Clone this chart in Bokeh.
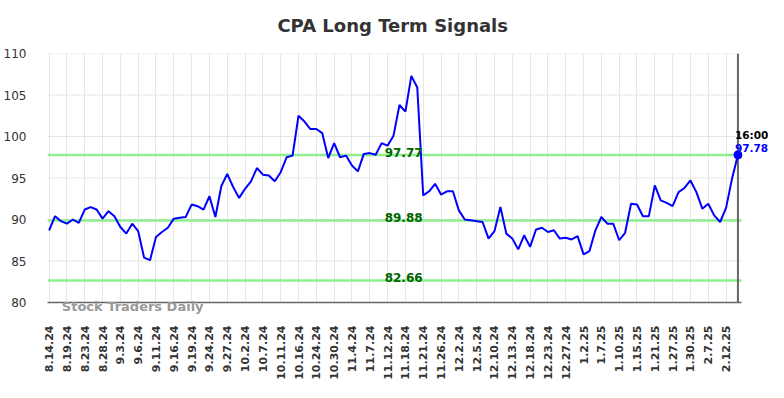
import math
from bokeh.plotting import figure
from bokeh.models import Range1d, Label
from bokeh.embed import file_html
from bokeh.resources import INLINE

# ---- data ----
values = [
    88.7, 90.4, 89.8, 89.5, 90.0, 89.6, 91.2, 91.5, 91.2, 90.1,
    91.0, 90.4, 89.1, 88.3, 89.5, 88.6, 85.4, 85.1, 87.9, 88.5,
    89.0, 90.1, 90.2, 90.3, 91.8, 91.6, 91.2, 92.8, 90.3, 94.0,
    95.5, 93.9, 92.6, 93.7, 94.6, 96.2, 95.4, 95.3, 94.6, 95.7,
    97.5, 97.7, 102.5, 101.8, 100.9, 100.9, 100.4, 97.4, 99.2, 97.5,
    97.7, 96.5, 95.8, 97.9, 98.0, 97.8, 99.2, 98.9, 100.1, 103.8,
    103.0, 107.3, 105.9, 92.9, 93.4, 94.3, 93.0, 93.4, 93.4, 91.1,
    90.0, 89.9, 89.8, 89.7, 87.7, 88.6, 91.5, 88.3, 87.7, 86.4,
    88.1, 86.7, 88.8, 89.0, 88.5, 88.7, 87.7, 87.8, 87.6, 88.0,
    85.8, 86.2, 88.7, 90.3, 89.5, 89.5, 87.5, 88.4, 91.9, 91.8,
    90.4, 90.4, 94.1, 92.3, 92.0, 91.6, 93.3, 93.8, 94.7, 93.3,
    91.3, 91.9, 90.5, 89.7, 91.4, 94.9, 97.78,
]
tick_labels = [
    "8.14.24", "8.19.24", "8.23.24", "8.28.24", "9.3.24", "9.6.24", "9.11.24",
    "9.16.24", "9.19.24", "9.24.24", "9.27.24", "10.2.24", "10.7.24", "10.11.24",
    "10.16.24", "10.24.24", "10.30.24", "11.4.24", "11.7.24", "11.12.24",
    "11.18.24", "11.21.24", "11.26.24", "12.2.24", "12.5.24", "12.10.24",
    "12.13.24", "12.18.24", "12.23.24", "12.27.24", "1.2.25", "1.7.25",
    "1.10.25", "1.15.25", "1.21.25", "1.27.25", "1.30.25", "2.7.25", "2.12.25",
]
y_ticks = [80, 85, 90, 95, 100, 105, 110]
levels = [97.77, 89.88, 82.66]
last_time = "16:00"
title = "CPA Long Term Signals"
watermark = "Stock Traders Daily"

x = list(range(len(values)))
tick_pos = [i * 3 for i in range(len(tick_labels))]
last_x = x[-1]
last_v = values[-1]

FONT = "DejaVu Sans"
X0 = -0.27                 # left edge of plotting area (data units)
X_END = last_x + 0.59      # visible right edge of the chart area
PX_PER_X = 5.93
FRAME_W = 720

p = figure(width=768, height=389, output_backend="svg", toolbar_location=None,
           x_range=Range1d(X0, X0 + FRAME_W / PX_PER_X),
           y_range=Range1d(y_ticks[0], y_ticks[-1]),
           min_border_left=39, min_border_right=0, min_border_top=53,
           min_border_bottom=87)
p.outline_line_color = None

# axes
xa = p.xaxis[0]
xa.ticker = tick_pos
xa.bounds = (X0, X_END)
xa.major_label_overrides = {t: l for t, l in zip(tick_pos, tick_labels)}
xa.major_label_orientation = math.pi / 2
xa.major_tick_line_color = None
xa.minor_tick_line_color = None
xa.axis_line_color = "#666666"
xa.axis_line_width = 1.5
xa.major_label_text_font = FONT
xa.major_label_text_font_size = "11px"
xa.major_label_text_font_style = "bold"
xa.major_label_text_color = "#333333"
xa.major_label_standoff = 17

ya = p.yaxis[0]
ya.ticker = y_ticks
ya.axis_line_color = None
ya.major_tick_line_color = None
ya.minor_tick_line_color = None
ya.major_label_text_font = FONT
ya.major_label_text_font_size = "12px"
ya.major_label_text_color = "#333333"
ya.major_label_standoff = 15

p.xgrid.grid_line_color = "#e6e6e6"
p.ygrid.visible = False
# horizontal grid lines limited to the chart area
p.segment(x0=[X0] * len(y_ticks), x1=[X_END] * len(y_ticks), y0=y_ticks, y1=y_ticks,
          line_color="#e6e6e6", line_width=1)

# level lines
p.segment(x0=[X0] * len(levels), x1=[X_END] * len(levels), y0=levels, y1=levels,
          line_color="#90EE90", line_width=2.5)
# vertical marker line at last point
p.segment(x0=[last_x], x1=[last_x], y0=[y_ticks[0]], y1=[y_ticks[-1]],
          line_color="#666666", line_width=2)
# price line
p.line(x, values, line_color="#0000FF", line_width=2)
p.scatter([last_x], [last_v], size=8, color="#0000FF")

for lv in levels:
    p.add_layout(Label(x=59.7, y=lv, text=f"{lv:.2f}", text_align="center",
                       text_baseline="alphabetic", y_offset=3,
                       text_color="#006400", text_font=FONT,
                       text_font_size="12px", text_font_style="bold"))

p.add_layout(Label(x=last_x, y=last_v, text=last_time, text_align="left",
                   text_baseline="alphabetic", x_offset=-3, y_offset=20,
                   text_color="#000000", text_font=FONT,
                   text_font_size="10.5px", text_font_style="bold"))
p.add_layout(Label(x=last_x, y=last_v, text=f"{last_v:.2f}", text_align="left",
                   text_baseline="alphabetic", x_offset=-3, y_offset=7,
                   text_color="#0000FF", text_font=FONT,
                   text_font_size="10.5px", text_font_style="bold"))

# title and watermark (placed in the top panel so they are not clipped)
p.add_layout(Label(x=57.86, y=113.37, text=title, text_align="center",
                   text_baseline="middle", text_color="#333333",
                   text_font=FONT, text_font_size="18px", text_font_style="bold"), "above")
p.add_layout(Label(x=2.14, y=80, text=watermark, text_align="left",
                   text_baseline="alphabetic", y_offset=-3.5, text_color="#999999",
                   text_font=FONT, text_font_size="13px", text_font_style="bold"), "above")

open("out.html", "w").write(file_html(p, INLINE))
